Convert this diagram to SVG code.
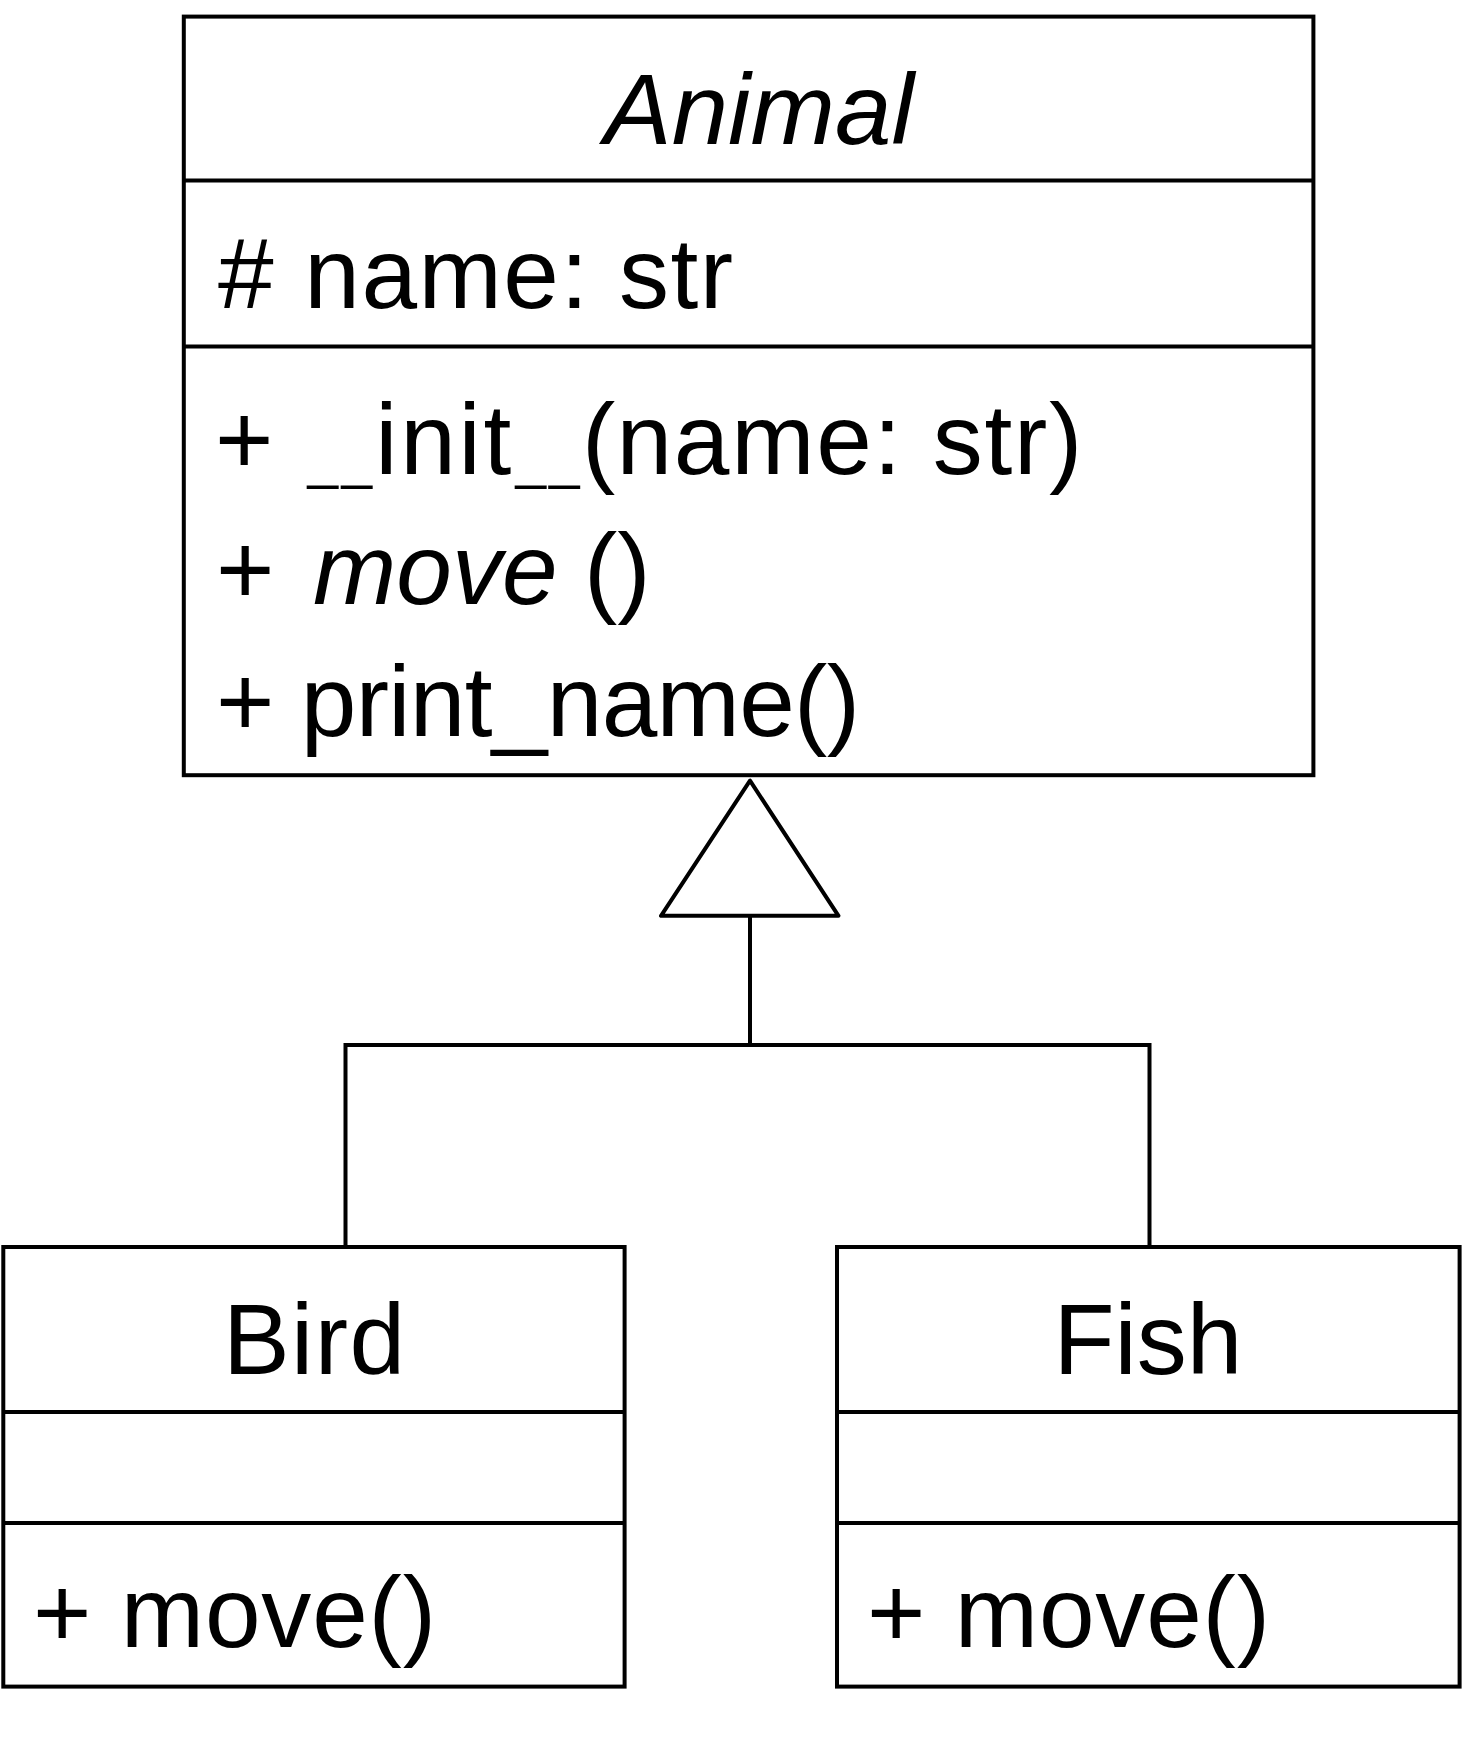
<svg xmlns="http://www.w3.org/2000/svg" width="1464" height="1737" viewBox="0 0 1464 1737">
<style>
.box{fill:#fff;stroke:#000;stroke-width:4}
.div{stroke:#000;stroke-width:4}
.t{font-family:"Liberation Sans","Noto Sans CJK JP",Arial,sans-serif;font-size:100px;fill:#000}
.u{font-size:55px}
.it{font-style:italic}
.c{text-anchor:middle}
.conn{fill:none;stroke:#000;stroke-width:4}
</style>
<rect width="1464" height="1737" fill="#fff"/>
<g id="connectors">
<polyline class="conn" points="345.5,1247 345.5,1045 1149.5,1045 1149.5,1247"/>
<line class="conn" x1="750" y1="1045" x2="750" y2="915.8"/>
<polygon class="conn" points="750,780.7 661,915.8 838.5,915.8" stroke-linejoin="round"/>
</g>
<g id="Animal">
<rect class="box" x="183.8" y="16.6" width="1129.6" height="758.6"/>
<line class="div" x1="183.8" y1="180.5" x2="1313.4" y2="180.5"/>
<line class="div" x1="183.8" y1="346.6" x2="1313.4" y2="346.6"/>
<text class="t it c" x="759" y="144" font-size="105" textLength="310" lengthAdjust="spacingAndGlyphs">Animal</text>
<text class="t" x="218" y="308" textLength="515" lengthAdjust="spacing"># name: str</text>
<text class="t" x="215" y="474">+</text>
<text class="t u" x="307.5" y="478">_</text>
<text class="t u" x="341.5" y="478">_</text>
<text class="t" x="375.3" y="474" textLength="136" lengthAdjust="spacing">init</text>
<text class="t u" x="515.5" y="478">_</text>
<text class="t u" x="549" y="478">_</text>
<text class="t" x="582" y="474">(</text>
<text class="t" x="616.4" y="474" textLength="466" lengthAdjust="spacing">name: str)</text>
<text class="t" x="216" y="604">+</text>
<text class="t it" x="313" y="604">move</text>
<text class="t" x="584" y="604">()</text>
<text class="t" x="216" y="736" textLength="644" lengthAdjust="spacing">+ print_name()</text>
</g>
<g id="Bird">
<rect class="box" x="3.3" y="1247" width="621.3" height="439.6"/>
<line class="div" x1="3.3" y1="1412" x2="624.6" y2="1412"/>
<line class="div" x1="3.3" y1="1523" x2="624.6" y2="1523"/>
<text class="t c" x="314" y="1374" textLength="182" lengthAdjust="spacing">Bird</text>
<text class="t" x="33" y="1647" textLength="403" lengthAdjust="spacing">+ move()</text>
</g>
<g id="Fish">
<rect class="box" x="837" y="1247" width="622.6" height="439.6"/>
<line class="div" x1="837" y1="1412" x2="1459.6" y2="1412"/>
<line class="div" x1="837" y1="1523" x2="1459.6" y2="1523"/>
<text class="t c" x="1148" y="1374">Fish</text>
<text class="t" x="867" y="1647" textLength="403" lengthAdjust="spacing">+ move()</text>
</g>
</svg>
